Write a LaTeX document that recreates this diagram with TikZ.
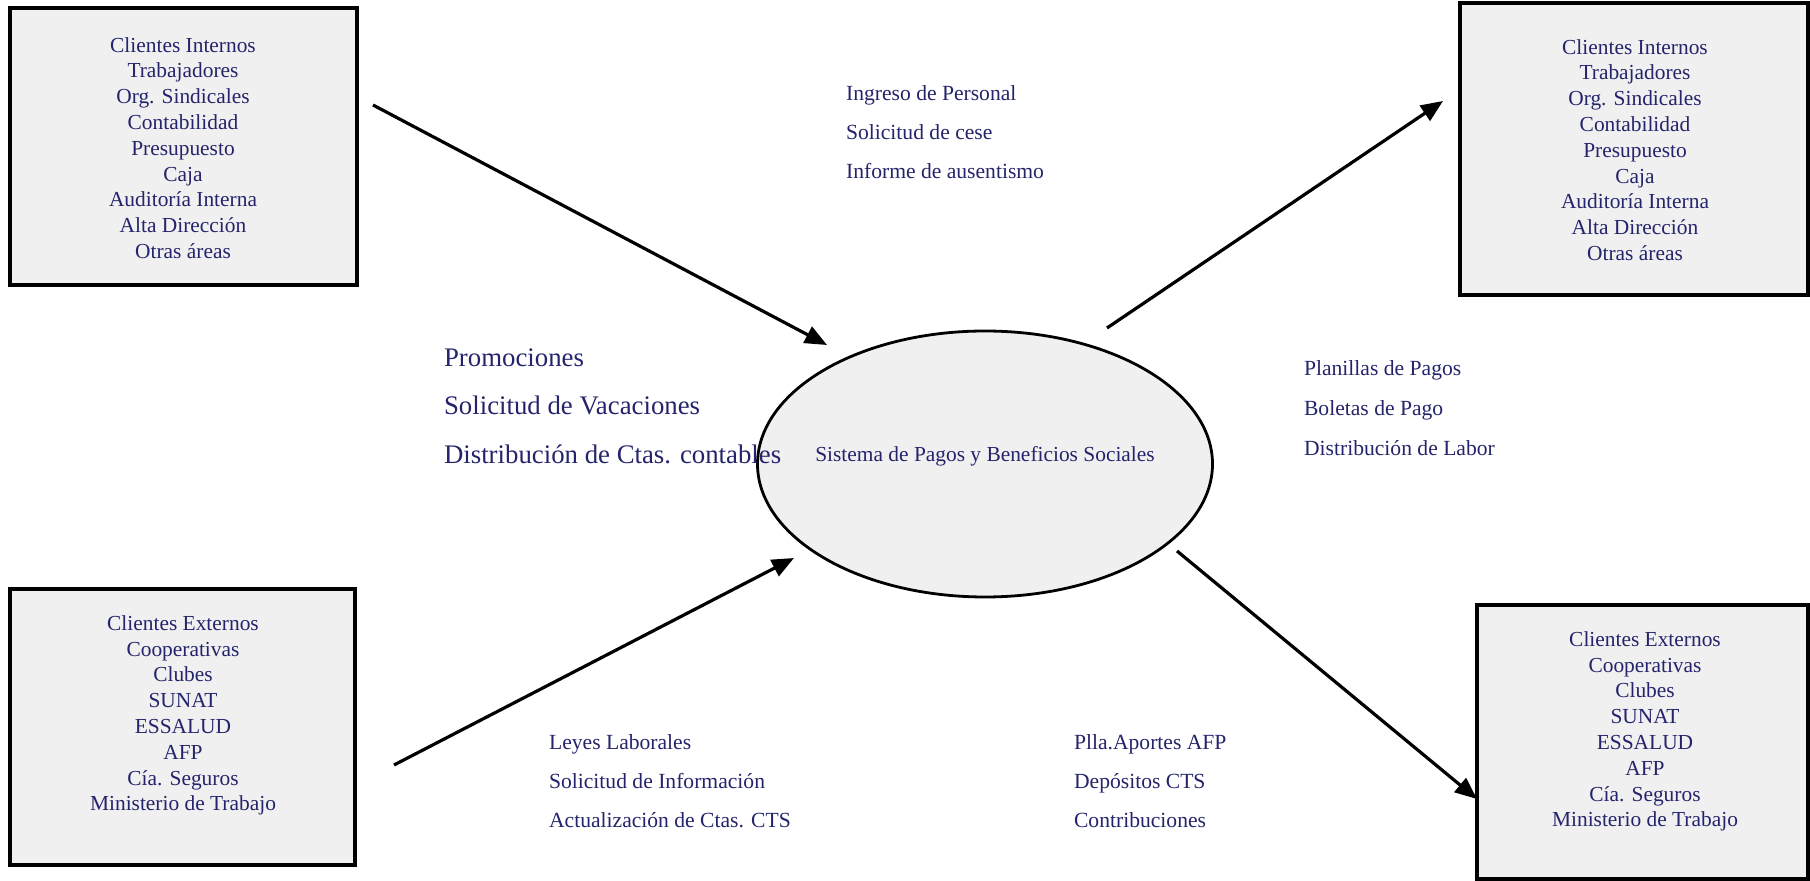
\documentclass[tikz,border=0pt]{standalone}
\usepackage{fontspec}
\setmainfont{Liberation Serif}
\usetikzlibrary{arrows.meta,shapes.geometric}
\definecolor{inkblue}{RGB}{36,36,108}
\begin{document}
\begin{tikzpicture}[x=0.5pt,y=-0.5pt,
    client/.style ={rectangle, draw, line width=1.6pt, fill=black!6},
    clientlist/.style ={align=center, text=inkblue, font=\fontsize{10.7}{12.9}\selectfont},
    system/.style ={ellipse, draw, line width=1.4pt, fill=black!6, minimum width=227.5pt, minimum height=133pt},
    systemtext/.style ={text=inkblue, font=\fontsize{10.7}{12}\selectfont},
    flowlist/.style ={anchor=west, align=left, text=inkblue, font=\fontsize{10.8}{19.5}\selectfont},
    flow/.style ={line width=1.6pt, -{Triangle[length=11pt,width=9pt]}}]
   \useasboundingbox (0,0) rectangle (1810,881);
   \node[client, minimum width=173.5pt, minimum height=138.5pt] (intL) at (183.5,146.5) {};
   \node[client, minimum width=174pt, minimum height=146pt] (intR) at (1634,149) {};
   \node[client, minimum width=172.5pt, minimum height=138pt] (extL) at (182.5,727) {};
   \node[client, minimum width=165.5pt, minimum height=137pt] (extR) at (1642.5,742) {};
   \node[clientlist] (intLtext) at (183,148) {Clientes Internos\\Trabajadores\\Org. Sindicales\\Contabilidad\\Presupuesto\\Caja\\Auditoría Interna\\Alta Dirección\\Otras áreas};
   \node[clientlist] (intRtext) at (1635,150) {Clientes Internos\\Trabajadores\\Org. Sindicales\\Contabilidad\\Presupuesto\\Caja\\Auditoría Interna\\Alta Dirección\\Otras áreas};
   \node[clientlist] (extLtext) at (183,715.5) {Clientes Externos\\Cooperativas\\Clubes\\SUNAT\\ESSALUD\\AFP\\Cía. Seguros\\Ministerio de Trabajo};
   \node[clientlist] (extRtext) at (1645,731.5) {Clientes Externos\\Cooperativas\\Clubes\\SUNAT\\ESSALUD\\AFP\\Cía. Seguros\\Ministerio de Trabajo};
   \node[system] (sys) at (985,464) {};
   \node[systemtext] (systext) at (985,456) {Sistema de Pagos y Beneficios Sociales};
   \node[flowlist] (ingreso) at (839,132) {Ingreso de Personal\\Solicitud de cese\\Informe de ausentismo};
   \node[flowlist, font=\fontsize{13.4}{24.3}\selectfont] (promo) at (437,406) {Promociones\\Solicitud de Vacaciones\\Distribución de Ctas. contables};
   \node[flowlist, font=\fontsize{10.8}{20}\selectfont] (planillas) at (1297,408) {Planillas de Pagos\\Boletas de Pago\\Distribución de Labor};
   \node[flowlist] (leyes) at (542,781) {Leyes Laborales\\Solicitud de Información\\Actualización de Ctas. CTS};
   \node[flowlist] (aportes) at (1067,781) {Plla.Aportes AFP\\Depósitos CTS\\Contribuciones};
   \coordinate (intLout) at (373,105);
   \coordinate (sysinA) at (827,345);
   \coordinate (sysoutA) at (1107,328);
   \coordinate (intRin) at (1443,101);
   \coordinate (extLout) at (394,765);
   \coordinate (sysinB) at (794,558);
   \coordinate (sysoutB) at (1177,551);
   \coordinate (extRin) at (1477,799);
   \draw[flow] (intLout) to (sysinA);
   \draw[flow] (sysoutA) to (intRin);
   \draw[flow] (extLout) to (sysinB);
   \draw[flow] (sysoutB) to (extRin);
\end{tikzpicture}
\end{document}
